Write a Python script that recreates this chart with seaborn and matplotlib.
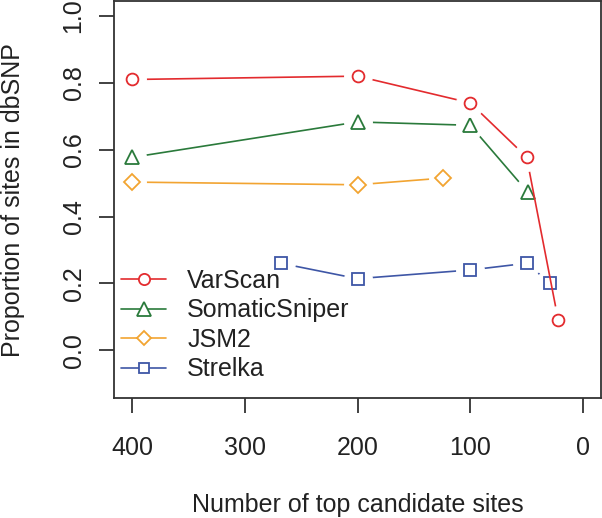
import matplotlib
matplotlib.use("Agg")
import matplotlib.pyplot as plt
import seaborn as sns
import pandas as pd
from matplotlib.lines import Line2D

# ---- data ----
series_names = ["VarScan", "SomaticSniper", "JSM2", "Strelka"]
varscan_x = [400, 200, 100, 50, 22]
varscan_y = [0.81, 0.82, 0.74, 0.578, 0.091]
sniper_x = [400, 200, 100, 49]
sniper_y = [0.577, 0.683, 0.673, 0.473]
jsm2_x = [400, 200, 124]
jsm2_y = [0.503, 0.495, 0.515]
strelka_x = [268, 200, 100, 50, 29]
strelka_y = [0.26, 0.214, 0.24, 0.26, 0.20]
x_ticks = [400, 300, 200, 100, 0]
y_ticks = [0.0, 0.2, 0.4, 0.6, 0.8, 1.0]

colors = {"VarScan": "#E32B2E", "SomaticSniper": "#2A7A3B",
          "JSM2": "#F2A431", "Strelka": "#3E56A6"}
markers = {"VarScan": "o", "SomaticSniper": "^", "JSM2": "D", "Strelka": "s"}
msizes = {"VarScan": 8.5, "SomaticSniper": 10, "JSM2": 8, "Strelka": 8}

sns.set_theme(style="white")
plt.rcParams["font.family"] = ["Liberation Sans", "DejaVu Sans"]
plt.rcParams["text.color"] = "#222222"

FS = 18

fig = plt.figure(figsize=(6.02, 5.18), dpi=100)
ax = fig.add_axes([114 / 602, 1 - 398.3 / 518, 487 / 602, 397 / 518])

data = {
    "VarScan": (varscan_x, varscan_y),
    "SomaticSniper": (sniper_x, sniper_y),
    "JSM2": (jsm2_x, jsm2_y),
    "Strelka": (strelka_x, strelka_y),
}

draw_order = ["Strelka", "JSM2", "SomaticSniper", "VarScan"]
for i, name in enumerate(draw_order):
    xs, ys = data[name]
    df = pd.DataFrame({"x": xs, "y": ys})
    c = colors[name]
    z = 2 + 3 * i
    sns.lineplot(data=df, x="x", y="y", color=c, lw=1.2, zorder=z, ax=ax,
                 sort=False, estimator=None)
    sns.lineplot(data=df, x="x", y="y", ax=ax, sort=False, estimator=None,
                 linestyle="", marker="o", ms=20, mfc="white", mec="white",
                 zorder=z + 1)
    sns.lineplot(data=df, x="x", y="y", ax=ax, sort=False, estimator=None,
                 linestyle="", marker=markers[name], ms=msizes[name],
                 mfc="none", mec=c, mew=1.3, zorder=z + 2)

ax.set_xlim(416, -16)
ax.set_ylim(-0.144, 1.044)
ax.set_xticks(x_ticks)
ax.set_xticklabels([str(t) for t in x_ticks])
ax.set_yticks(y_ticks)
ax.set_yticklabels([f"{t:.1f}" for t in y_ticks], rotation=90, va="center")

for s in ax.spines.values():
    s.set_color("#333333")
    s.set_linewidth(1.3)

ax.tick_params(axis="both", direction="out", length=10.5, width=1.3,
               color="#333333", labelsize=FS, labelcolor="#222222",
               bottom=True, left=True)
ax.tick_params(axis="x", pad=17)
ax.tick_params(axis="y", pad=10)

ax.set_xlabel("Number of top candidate sites", fontsize=FS, color="#222222")
ax.set_ylabel("Proportion of sites in dbSNP", fontsize=FS, color="#222222")
ax.xaxis.set_label_coords(0.5, (398.3 - 505) / 397)
ax.xaxis.label.set_va("center")
ax.yaxis.set_label_coords((13 - 114) / 487, 0.5)
ax.yaxis.label.set_va("center")

handles = [Line2D([], [], color=colors[n], lw=1.2, marker=markers[n],
                  ms=msizes[n] * 0.95, mfc="white", mec=colors[n], mew=1.3)
           for n in series_names]
ax.legend(handles, series_names, loc="center left", frameon=False,
          bbox_to_anchor=(121 / 602, 1 - 325 / 518),
          bbox_transform=fig.transFigure, borderpad=0, borderaxespad=0,
          fontsize=FS, handlelength=1.8, handletextpad=0.85,
          labelspacing=0.22)

fig.savefig("out.png", dpi=100)
